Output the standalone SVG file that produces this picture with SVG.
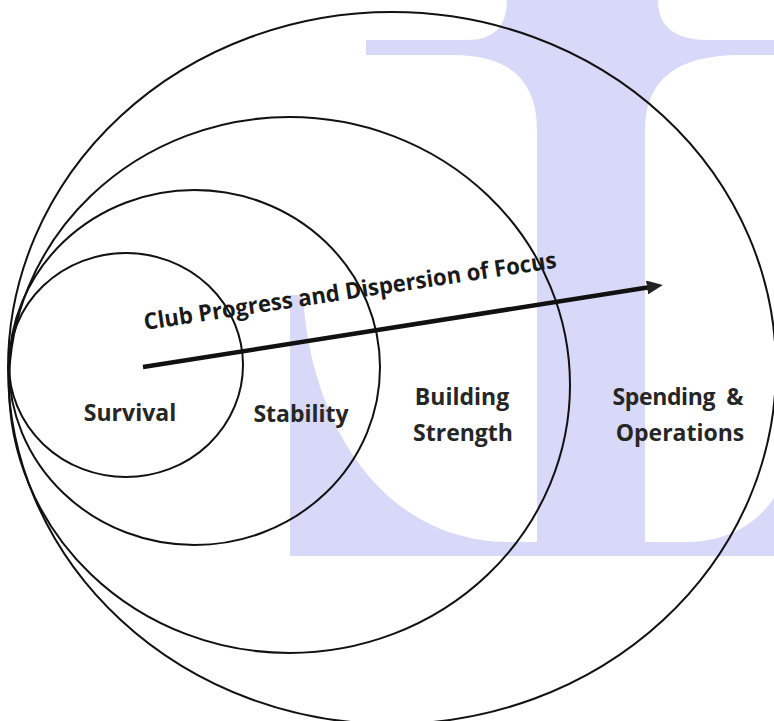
<svg xmlns="http://www.w3.org/2000/svg" width="774" height="721" viewBox="0 0 774 721">
  <defs>
    <style>
      .ring { fill: none; stroke: #111; stroke-width: 2; }
      .lbl { font-family: "Open Sans", "Liberation Sans", sans-serif; font-weight: 700; font-size: 23px; fill: #262626; text-anchor: middle; }
      .title { font-family: "Open Sans", "Liberation Sans", sans-serif; font-weight: 700; font-size: 23px; fill: #1a1a1a; }
      .wm { fill: #d8d8f8; stroke: none; }
      .arrow { stroke: #111; stroke-width: 4.5; fill: none; }
    </style>
    <marker id="head" viewBox="0 0 16 14" markerWidth="16" markerHeight="14" refX="2" refY="7" orient="auto" markerUnits="userSpaceOnUse">
      <path d="M0,0 L16,7 L0,14 Z" fill="#222"/>
    </marker>
  </defs>
  <rect x="0" y="0" width="774" height="721" fill="#ffffff"/>
  <g id="watermark">
    <path class="wm" d="M366,40 L467,40 Q507,40 507,0 L658,0 Q658,40 708,40 L774,40 L774,55 L740,55 Q645,55 645,130 L645,556 L537,556 L537,130 Q537,55 453,55 L366,55 Z"/>
    <path class="wm" d="M290,295 L303,295 C310,420 380,542 510,542 L540,542 L540,556 L290,556 Z"/>
    <path class="wm" d="M640,542 L690,542 Q745,540 774,498 L774,556 L640,556 Z"/>
  </g>
  <g id="node-spending">
    <ellipse class="ring" cx="392" cy="368" rx="384" ry="356"/>
    <text class="lbl" x="678" y="405" xml:space="preserve" textLength="131">Spending  &amp;</text>
    <text class="lbl" x="680" y="441">Operations</text>
  </g>
  <g id="node-building">
    <ellipse class="ring" cx="289.5" cy="385" rx="280.5" ry="268"/>
    <text class="lbl" x="462" y="405">Building</text>
    <text class="lbl" x="463" y="441">Strength</text>
  </g>
  <g id="node-stability">
    <ellipse class="ring" cx="194.5" cy="367.5" rx="185.5" ry="177.5"/>
    <text class="lbl" x="301" y="422">Stability</text>
  </g>
  <g id="node-survival">
    <ellipse class="ring" cx="126" cy="365" rx="117" ry="112"/>
    <text class="lbl" x="130" y="421">Survival</text>
  </g>
  <g id="connectors">
    <line class="arrow" x1="143" y1="367" x2="649" y2="287.2" marker-end="url(#head)"/>
    <text class="title" x="145" y="330" transform="rotate(-8.6 145 330)" textLength="417" lengthAdjust="spacingAndGlyphs">Club Progress and Dispersion of Focus</text>
  </g>
</svg>
